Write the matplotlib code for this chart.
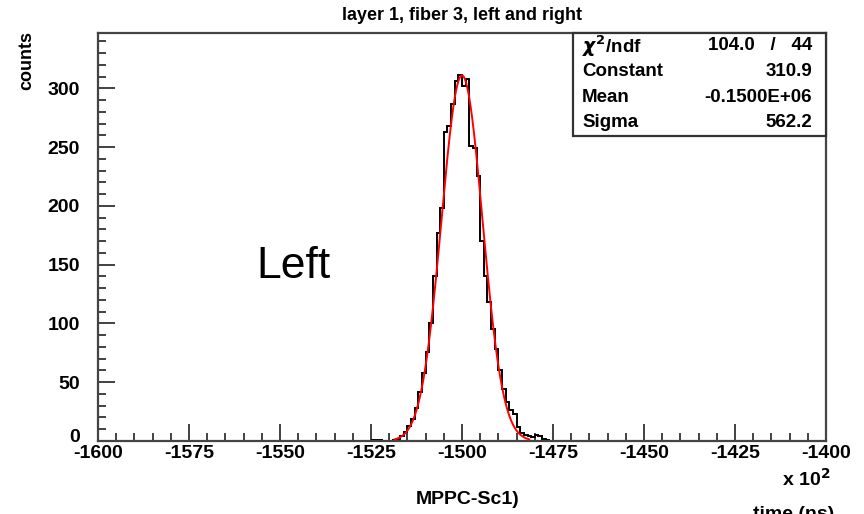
import numpy as np
import matplotlib
matplotlib.use("Agg")
import matplotlib.pyplot as plt
from matplotlib.ticker import MultipleLocator

# histogram of time (units of 10^2 ns), bins of width 1
BIN_LO = -1525
COUNTS = [1, 1, 1, 0, 0, 0, 1, 2, 4, 8,
          13, 19, 28, 42, 58, 76, 100, 140, 177, 198,
          263, 268, 287, 306, 311, 302, 308, 251, 249, 225,
          170, 140, 118, 95, 78, 60, 44, 33, 26, 23,
          12, 7, 5, 4, 3, 5, 4, 2, 1, 0]

# gaussian fit parameters (stats box)
FIT_CONST = 310.9
FIT_MEAN = -1500.0     # -0.1500E+06 ns
FIT_SIGMA = 5.622      # 562.2 ns
FIT_RANGE = (-1518.5, -1481.5)
CHI2, NDF = 104.0, 44

XTICKS = list(range(-1600, -1399, 25))
YTICKS = list(range(0, 301, 50))

W, H = 864, 514
plt.rcParams["font.family"] = ["Liberation Sans", "DejaVu Sans"]
plt.rcParams["font.weight"] = "bold"
plt.rcParams["axes.unicode_minus"] = False

fig = plt.figure(figsize=(W / 100, H / 100), dpi=100)
ax = fig.add_axes([98 / W, 1 - 441 / H, (826 - 98) / W, (441 - 33) / H])

def px(x, y):
    return x / W, 1 - y / H

edges = np.arange(BIN_LO, BIN_LO + len(COUNTS) + 1)
ax.stairs(COUNTS, edges, baseline=None, color="black", lw=1.4, zorder=2)

xf = np.linspace(FIT_RANGE[0], FIT_RANGE[1], 400)
yf = FIT_CONST * np.exp(-0.5 * ((xf - FIT_MEAN) / FIT_SIGMA) ** 2)
ax.plot(xf, yf, color="red", lw=1.4, zorder=3)

ax.set_xlim(-1600, -1400)
ax.set_ylim(0, 347)
ax.set_xticks(XTICKS)
ax.set_yticks(YTICKS)
# ROOT puts the "0" a little higher, drawn separately below
ax.set_yticklabels([""] + [str(v) for v in YTICKS[1:]])
ax.xaxis.set_minor_locator(MultipleLocator(5))
ax.yaxis.set_minor_locator(MultipleLocator(10))
ax.tick_params(which="major", direction="in", length=12, width=1.3,
               labelsize=14, color="#333333", pad=3)
ax.tick_params(which="minor", direction="in", length=6, width=1.3,
               color="#333333")
ax.tick_params(axis="y", pad=13)
for s in ax.spines.values():
    s.set_linewidth(1.6)
    s.set_color("#444444")
fig.text(*px(80, 437), str(YTICKS[0]), fontsize=14, ha="right", va="center")

# stats box
bx0, bx1, by0, by1 = 573, 826, 33, 136
ax.add_patch(plt.Rectangle(px(bx0, by1), (bx1 - bx0) / W, (by1 - by0) / H,
                           transform=fig.transFigure, fill=True,
                           facecolor="white", edgecolor="#333333", lw=1.6,
                           zorder=5, clip_on=False))
rows = [(r"$\chi^2$/ndf", f"{CHI2:.1f}   /   {NDF}"),
        ("Constant", f"{FIT_CONST:.1f}"),
        ("Mean", f"{FIT_MEAN * 100 / 1e6:.4f}E+06"),
        ("Sigma", f"{FIT_SIGMA * 100:.1f}")]
for i, (k, v) in enumerate(rows):
    yy = 46 + i * 25.5
    fig.text(*px(582, yy), k, fontsize=13.5, ha="left", va="center", zorder=6)
    fig.text(*px(812, yy), v, fontsize=13.5, ha="right", va="center", zorder=6)

fig.text(*px(462, 15), "layer 1, fiber 3, left and right", fontsize=13,
         ha="center", va="center")
fig.text(*px(27, 31), "counts", fontsize=13, rotation=90, ha="center", va="top")
fig.text(*px(831, 479), r"x 10$^{\mathbf{2}}$", fontsize=14, ha="right", va="center")
fig.text(*px(468, 500), "MPPC-Sc1)", fontsize=14, ha="center", va="center")
fig.text(*px(794, 506), "time (ns)", fontsize=14, ha="center", va="top")
fig.text(*px(293, 267), "Left", fontsize=32, fontweight="normal",
         ha="center", va="center")

fig.savefig("out.png", dpi=100)
